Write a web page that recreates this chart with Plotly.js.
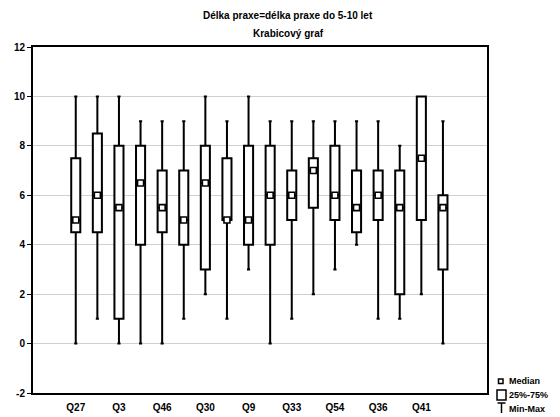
<!DOCTYPE html>
<html>
<head>
<meta charset="utf-8">
<script src="https://cdn.plot.ly/plotly-3.0.1.min.js"></script>
<style>html,body{margin:0;padding:0;background:#fff;}#chart{width:560px;height:417px;}</style>
</head>
<body>
<div id="chart"></div>
<script>
// Box positions (1..18); only every other one carries a label
const positions = [1,2,3,4,5,6,7,8,9,10,11,12,13,14,15,16,17,18];
const tickPositions = [1,3,5,7,9,11,13,15,17];
const tickLabels = ["Q27","Q3","Q46","Q30","Q9","Q33","Q54","Q36","Q41"];

const minVals    = [0, 1, 0, 0, 0, 1, 2, 1, 3, 0, 1, 2, 3, 4, 1, 1, 2, 0];
const q1Vals     = [4.5, 4.5, 1, 4, 4.5, 4, 3, 5, 4, 4, 5, 5.5, 5, 4.5, 5, 2, 5, 3];
const medianVals = [5, 6, 5.5, 6.5, 5.5, 5, 6.5, 5, 5, 6, 6, 7, 6, 5.5, 6, 5.5, 7.5, 5.5];
const q3Vals     = [7.5, 8.5, 8, 8, 7, 7, 8, 7.5, 8, 8, 7, 7.5, 8, 7, 7, 7, 10, 6];
const maxVals    = [10, 10, 10, 9, 9, 9, 10, 9, 10, 9, 9, 9, 9, 9, 9, 8, 10, 9];

const titleLines = ["Délka praxe=délka praxe do 5-10 let", "Krabicový graf"];
const legendLabels = ["Median", "25%-75%", "Min-Max"];

const boxTrace = {
  type: 'box',
  x: positions,
  q1: q1Vals,
  median: medianVals,
  q3: q3Vals,
  lowerfence: minVals,
  upperfence: maxVals,
  width: 0.42,
  whiskerwidth: 0.35,
  fillcolor: '#ffffff',
  line: {color: '#000000', width: 2},
  boxpoints: false,
  hoverinfo: 'skip',
  showlegend: false
};

const medianTrace = {
  type: 'scatter',
  mode: 'markers',
  x: positions,
  y: medianVals,
  marker: {symbol: 'square', size: 6, color: '#ffffff', line: {color: '#000000', width: 1.6}},
  hoverinfo: 'skip',
  showlegend: false
};

const fontBase = {family: 'Liberation Sans, Arial, sans-serif', color: '#000', size: 10};

function px2x(p){ return (p - 33) / 454; }
function px2y(p){ return (393 - p) / 346; }

const annotations = [
  {text: '<b>' + titleLines[0] + '</b>', xref: 'paper', yref: 'paper', x: px2x(288), y: px2y(15), showarrow: false, font: {...fontBase, size: 10}, xanchor: 'center', yanchor: 'middle'},
  {text: '<b>' + titleLines[1] + '</b>', xref: 'paper', yref: 'paper', x: px2x(288), y: px2y(33), showarrow: false, font: {...fontBase, size: 10}, xanchor: 'center', yanchor: 'middle'},
  {text: '<b>' + legendLabels[0] + '</b>', xref: 'paper', yref: 'paper', x: px2x(507), y: px2y(381), showarrow: false, font: {...fontBase, size: 9}, xanchor: 'left', yanchor: 'middle'},
  {text: '<b>' + legendLabels[1] + '</b>', xref: 'paper', yref: 'paper', x: px2x(507), y: px2y(395), showarrow: false, font: {...fontBase, size: 9}, xanchor: 'left', yanchor: 'middle'},
  {text: '<b>' + legendLabels[2] + '</b>', xref: 'paper', yref: 'paper', x: px2x(507), y: px2y(409), showarrow: false, font: {...fontBase, size: 9}, xanchor: 'left', yanchor: 'middle'}
];

// legend icons (decoration only)
const iconLine = {color: '#000', width: 1.5};
const shapes = [
  {type: 'rect', xref: 'paper', yref: 'paper', x0: px2x(498.5), x1: px2x(503), y0: px2y(383.5), y1: px2y(379), line: iconLine, fillcolor: '#fff'},
  {type: 'rect', xref: 'paper', yref: 'paper', x0: px2x(497), x1: px2x(506), y0: px2y(400), y1: px2y(390), line: iconLine, fillcolor: '#fff'},
  {type: 'line', xref: 'paper', yref: 'paper', x0: px2x(497.5), x1: px2x(505.5), y0: px2y(403), y1: px2y(403), line: iconLine},
  {type: 'line', xref: 'paper', yref: 'paper', x0: px2x(501.5), x1: px2x(501.5), y0: px2y(403), y1: px2y(413), line: iconLine}
];

const layout = {
  width: 560,
  height: 417,
  margin: {l: 33, r: 73, t: 47, b: 24, pad: 0},
  paper_bgcolor: '#ffffff',
  plot_bgcolor: '#ffffff',
  showlegend: false,
  font: fontBase,
  xaxis: {
    range: [-0.98, 20.04],
    tickmode: 'array',
    tickvals: tickPositions,
    ticktext: tickLabels.map(t => '<b>' + t + '</b>'),
    showgrid: false,
    zeroline: false,
    showline: true,
    linecolor: '#000',
    linewidth: 2,
    mirror: true,
    ticks: 'outside',
    ticklen: 4,
    tickcolor: 'rgba(0,0,0,0)',
    tickfont: {...fontBase, size: 10}
  },
  yaxis: {
    range: [-2, 12],
    tickmode: 'array',
    tickvals: [-2, 0, 2, 4, 6, 8, 10, 12],
    ticktext: ['-2','0','2','4','6','8','10','12'].map(t => '<b>' + t + '</b>'),
    showgrid: true,
    gridcolor: '#d0d0d0',
    gridwidth: 1,
    zeroline: false,
    showline: true,
    linecolor: '#000',
    linewidth: 2,
    mirror: true,
    ticks: 'outside',
    ticklen: 4,
    tickwidth: 1,
    tickcolor: '#000',
    tickfont: {...fontBase, size: 10}
  },
  annotations: annotations,
  shapes: shapes
};

Plotly.newPlot('chart', [boxTrace, medianTrace], layout, {staticPlot: true, displayModeBar: false});
</script>
</body>
</html>
